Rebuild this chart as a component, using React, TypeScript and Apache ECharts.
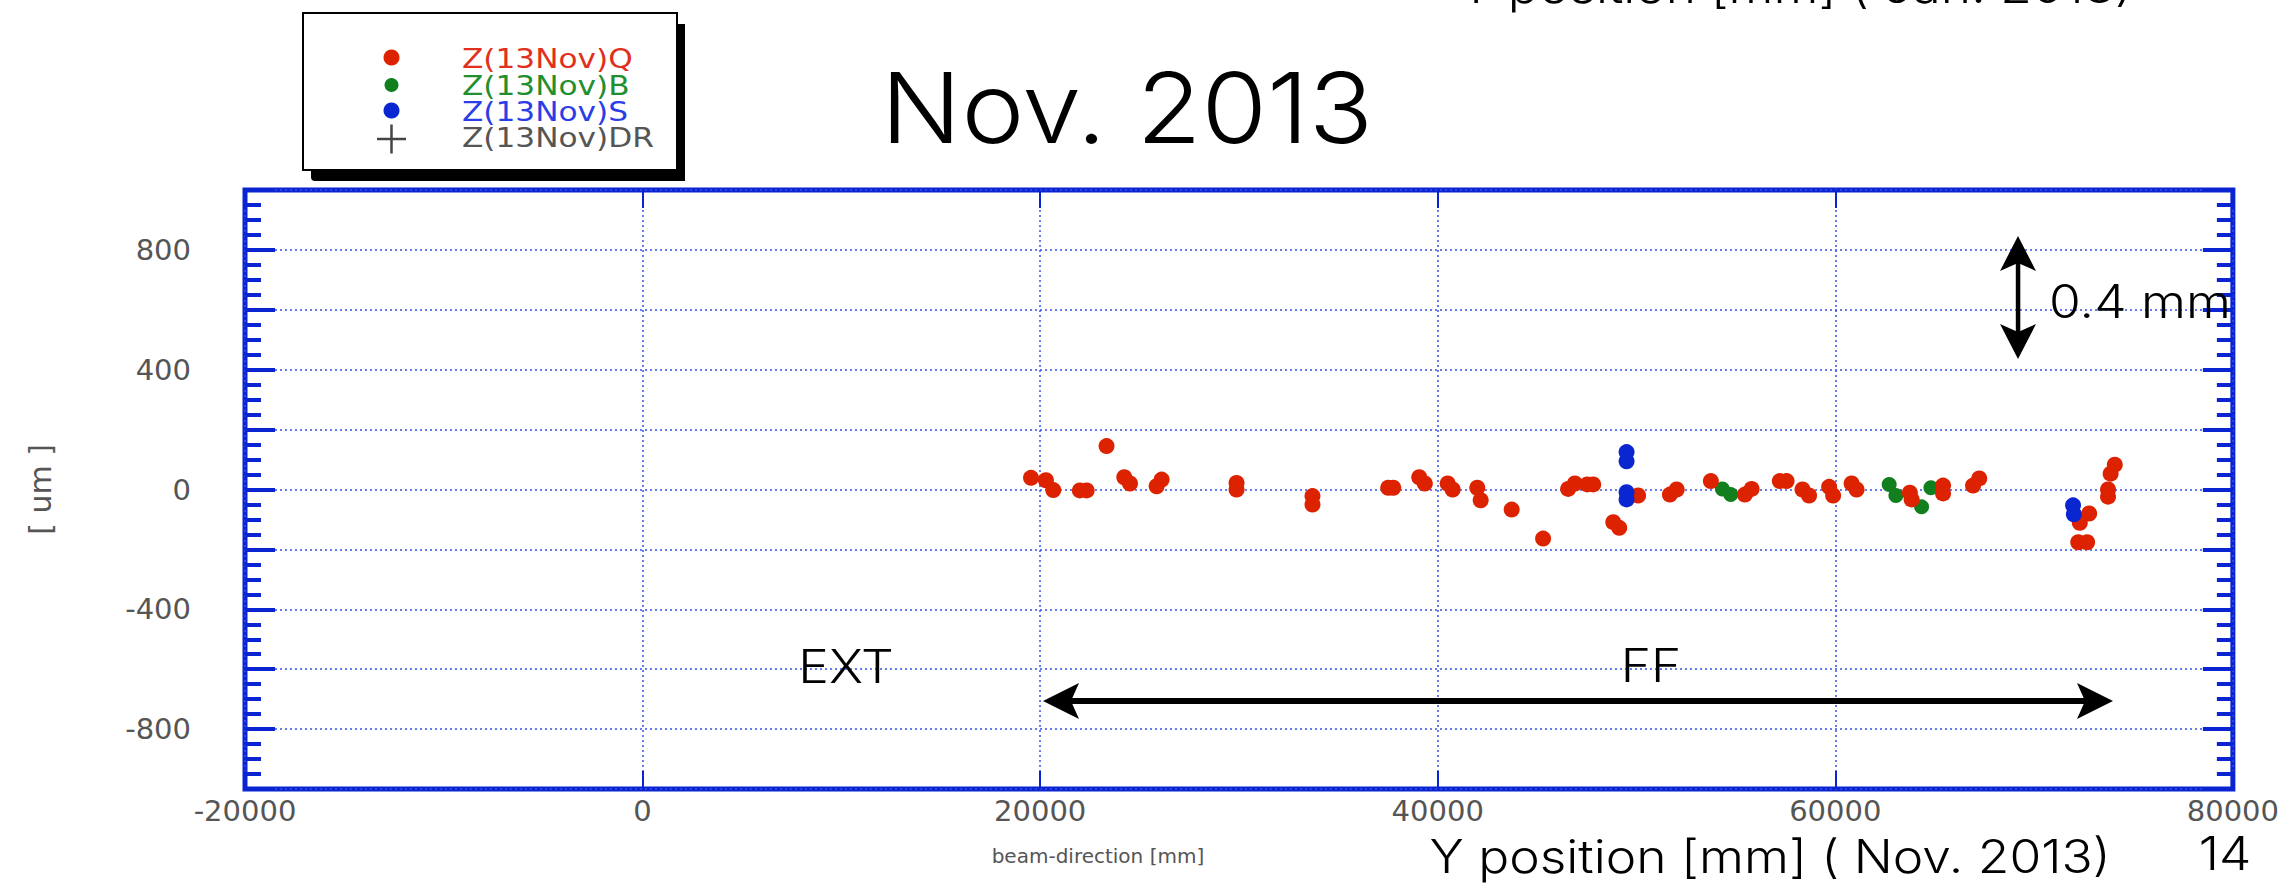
import React, { useEffect, useRef } from 'react';
import * as echarts from 'echarts';

// ---------- data ----------
const seriesNames = ['Z(13Nov)Q', 'Z(13Nov)B', 'Z(13Nov)S', 'Z(13Nov)DR'];

const xMin = -20000;
const xMax = 80000;
const xStep = 20000;
const yMin = -1000;
const yMax = 1000;
const yStep = 200;
const yLabelValues = [800, 400, 0, -400, -800];

// [beam-direction mm, offset um]
const qPoints: [number, number][] = [
  [19540, 39], [20290, 31], [20660, -2], [22000, -3], [22340, -3], [23340, 145],
  [24230, 41], [24520, 20], [25860, 11], [26110, 33], [29880, 22], [29880, 0],
  [33700, -22], [33700, -50], [37510, 6], [37760, 6], [39070, 41], [39350, 20],
  [40500, 20], [40750, 0], [41990, 6], [42160, -36], [43720, -67], [45300, -164],
  [46560, 2], [46900, 20], [47520, 17], [47820, 17], [48830, -109], [49130, -128],
  [50080, -20], [51680, -17], [52020, 0], [53740, 28], [55450, -17], [55790, 2],
  [57210, 28], [57550, 28], [58350, 0], [58680, -20], [59690, 9], [59890, -20],
  [60820, 20], [61070, 0], [63750, -11], [63840, -33], [65420, 13], [65420, -13],
  [66930, 13], [67240, 37], [72770, -80], [72300, -111], [72220, -176], [72670, -176],
  [73720, 0], [73720, -24], [74060, 83], [73850, 53],
];
const bPoints: [number, number][] = [
  [54320, 2], [54740, -17], [62710, 17], [63050, -20], [64340, -58], [64810, 6],
];
const sPoints: [number, number][] = [
  [49500, 125], [49500, 94], [49500, -9], [49500, -33], [71960, -53], [72000, -83],
];
const drPoints: [number, number][] = [];

const titleText = 'Nov. 2013';
const topCutText = 'Y position [mm] ( Jan. 2013)';
const bottomText = 'Y position [mm] ( Nov. 2013)';
const pageNumber = '14';
const scaleText = '0.4 mm';
const extText = 'EXT';
const ffText = 'FF';
const xName = 'beam-direction [mm]';
const yName = '[ um ]';

// ---------- styles ----------
const FONT = '"DejaVu Sans", Verdana, sans-serif';
const SLIDE_FONT = 'Inter, "DejaVu Sans", sans-serif';
const FRAME = '#0a24d2';
const GRIDC = '#3550ea';
const RED = '#dd2200';
const GREEN = '#127f1e';
const BLUEPT = '#0a26d0';
const GRAY = '#555555';
const legendTextColors = ['#e03020', '#1f8f2f', '#2a3ee8', '#555555'];
const legendMarkColors = [RED, GREEN, BLUEPT, '#444444'];

function txt(text: string, x: number, y: number, size: number, sx = 1.12) {
  return {
    type: 'text',
    x,
    y,
    z: 10,
    scaleX: sx,
    scaleY: 1,
    silent: true,
    style: {
      text,
      fill: '#000',
      font: `300 ${size}px ${SLIDE_FONT}`,
      textAlign: 'center',
      textVerticalAlign: 'middle',
    },
  };
}

function legendGraphic() {
  const left = 303;
  const top = 13;
  const w = 374;
  const h = 157;
  const markX = 391.5;
  const rowY = [59, 86, 112, 138];
  const els: any[] = [
    { type: 'rect', z: 20, silent: true, shape: { x: left + 8, y: top + 11, width: w, height: h, r: [0, 0, 0, 4] }, style: { fill: '#000' } },
    { type: 'rect', z: 21, silent: true, shape: { x: left, y: top, width: w, height: h }, style: { fill: '#fff', stroke: '#000', lineWidth: 2 } },
    { type: 'circle', z: 22, silent: true, shape: { cx: markX, cy: rowY[0] - 1.5, r: 8 }, style: { fill: legendMarkColors[0] } },
    { type: 'circle', z: 22, silent: true, shape: { cx: markX, cy: rowY[1] - 1, r: 7 }, style: { fill: legendMarkColors[1] } },
    { type: 'circle', z: 22, silent: true, shape: { cx: markX, cy: rowY[2] - 1.5, r: 8 }, style: { fill: legendMarkColors[2] } },
    { type: 'line', z: 22, silent: true, shape: { x1: markX - 14.5, y1: rowY[3] + 1, x2: markX + 14.5, y2: rowY[3] + 1 }, style: { stroke: legendMarkColors[3], lineWidth: 2.5 } },
    { type: 'line', z: 22, silent: true, shape: { x1: markX, y1: rowY[3] - 13.5, x2: markX, y2: rowY[3] + 15.5 }, style: { stroke: legendMarkColors[3], lineWidth: 2.5 } },
  ];
  seriesNames.forEach((name, i) => {
    els.push({
      type: 'text',
      z: 23,
      silent: true,
      x: 462,
      y: rowY[i],
      scaleX: 1.2,
      scaleY: 1,
      style: {
        text: name,
        fill: legendTextColors[i],
        font: `26px ${FONT}`,
        textAlign: 'left',
        textVerticalAlign: 'middle',
      },
    });
  });
  return els;
}

export default function App() {
  const ref = useRef<HTMLDivElement>(null);

  useEffect(() => {
    if (!ref.current) return;
    const chart = echarts.init(ref.current, undefined, { renderer: 'svg' });

    const tickLabel = { color: GRAY, fontFamily: FONT, fontSize: 29 };

    const option: any = {
      animation: false,
      backgroundColor: '#ffffff',
      grid: {
        left: 245,
        top: 190,
        width: 1988,
        height: 599,
        show: true,
        borderColor: FRAME,
        borderWidth: 5,
        backgroundColor: 'transparent',
      },
      legend: { show: false },
      xAxis: [
        {
          type: 'value',
          min: xMin,
          max: xMax,
          interval: xStep,
          position: 'bottom',
          axisLine: { show: false, onZero: false },
          axisTick: { show: true, inside: true, length: 18, lineStyle: { color: FRAME, width: 2 } },
          axisLabel: { ...tickLabel, margin: 7, formatter: (v: number) => String(v) },
          splitLine: { show: true, lineStyle: { color: GRIDC, width: 1.5, type: [2, 3] } },
          name: xName,
          nameLocation: 'middle',
          nameGap: 57,
          nameTextStyle: { color: GRAY, fontFamily: FONT, fontSize: 20, padding: [0, 282, 0, 0] },
        },
        {
          type: 'value',
          min: xMin,
          max: xMax,
          interval: xStep,
          position: 'top',
          axisLine: { show: false, onZero: false },
          axisTick: { show: true, inside: true, length: 18, lineStyle: { color: FRAME, width: 2 } },
          axisLabel: { show: false },
          splitLine: { show: false },
        },
      ],
      yAxis: [
        {
          type: 'value',
          min: yMin,
          max: yMax,
          interval: yStep,
          position: 'left',
          axisLine: { show: false, onZero: false },
          axisTick: { show: true, inside: true, length: 30, lineStyle: { color: FRAME, width: 4 } },
          minorTick: { show: true, splitNumber: 4, length: 16, lineStyle: { color: FRAME, width: 4 } },
          axisLabel: {
            ...tickLabel,
            margin: 54,
            padding: [0, 0, 12, 0],
            formatter: (v: number) => (yLabelValues.includes(v) ? String(v) : ''),
          },
          splitLine: { show: true, lineStyle: { color: GRIDC, width: 1.5, type: [2, 3] } },
          name: yName,
          nameLocation: 'middle',
          nameRotate: 90,
          nameGap: 190,
          nameTextStyle: { color: GRAY, fontFamily: FONT, fontSize: 30 },
        },
        {
          type: 'value',
          min: yMin,
          max: yMax,
          interval: yStep,
          position: 'right',
          axisLine: { show: false, onZero: false },
          axisTick: { show: true, inside: true, length: 30, lineStyle: { color: FRAME, width: 4 } },
          minorTick: { show: true, splitNumber: 4, length: 16, lineStyle: { color: FRAME, width: 4 } },
          axisLabel: { show: false },
          splitLine: { show: false },
        },
      ],
      series: [
        {
          name: seriesNames[1],
          type: 'scatter',
          data: bPoints,
          symbol: 'circle',
          symbolSize: 15,
          itemStyle: { color: GREEN, opacity: 1 },
          z: 2,
        },
        {
          name: seriesNames[0],
          type: 'scatter',
          data: qPoints,
          symbol: 'circle',
          symbolSize: 16,
          itemStyle: { color: RED, opacity: 1 },
          z: 3,
        },
        {
          name: seriesNames[2],
          type: 'scatter',
          data: sPoints,
          symbol: 'circle',
          symbolSize: 16,
          itemStyle: { color: BLUEPT, opacity: 1 },
          z: 4,
        },
        {
          name: seriesNames[3],
          type: 'scatter',
          data: drPoints,
          symbol: 'circle',
          itemStyle: { color: '#444444', opacity: 1 },
        },
      ],
      graphic: [
        ...legendGraphic(),
        txt(titleText, 1127, 108, 98, 1.083),
        txt(topCutText, 1796, -13, 46),
        txt(bottomText, 1770, 857, 46),
        txt(pageNumber, 2225, 854, 46),
        txt(scaleText, 2140, 302, 46),
        txt(extText, 846, 667, 46),
        txt(ffText, 1651, 666, 46),
        // vertical double arrow (0.4 mm)
        { type: 'rect', z: 10, silent: true, shape: { x: 2015.8, y: 258, width: 4.5, height: 80 }, style: { fill: '#000' } },
        { type: 'polygon', z: 10, silent: true, shape: { points: [[2018, 236], [2036, 271], [2018, 263], [2000, 271]] }, style: { fill: '#000' } },
        { type: 'polygon', z: 10, silent: true, shape: { points: [[2018, 359], [2036, 324], [2018, 332], [2000, 324]] }, style: { fill: '#000' } },
        // horizontal double arrow (FF)
        { type: 'rect', z: 10, silent: true, shape: { x: 1066, y: 698, width: 1024, height: 6 }, style: { fill: '#000' } },
        { type: 'polygon', z: 10, silent: true, shape: { points: [[1043, 701], [1079, 683], [1071, 701], [1079, 719]] }, style: { fill: '#000' } },
        { type: 'polygon', z: 10, silent: true, shape: { points: [[2113, 701], [2077, 683], [2085, 701], [2077, 719]] }, style: { fill: '#000' } },
      ],
    };

    chart.setOption(option);
    return () => chart.dispose();
  }, []);

  return (
    <div
      ref={ref}
      style={{ position: 'fixed', left: 0, top: 0, width: 2282, height: 885, background: '#fff' }}
    />
  );
}
